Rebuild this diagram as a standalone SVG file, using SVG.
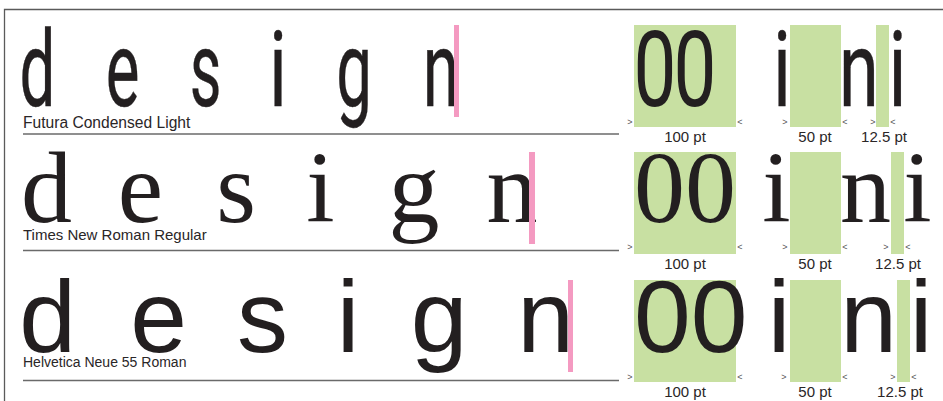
<svg xmlns="http://www.w3.org/2000/svg" width="943" height="401" viewBox="0 0 943 401">
<style>
.frame{stroke:#5a5a5a;stroke-width:1.3;fill:none}
.rule{stroke:#6a6a6a;stroke-width:1.5}
.green{fill:#c8e0a2}
.pink{fill:#f49ac1}
.lbl{font-family:"Liberation Sans",Arial,sans-serif;font-size:15px;fill:#2a2627}
.pt{font-family:"Liberation Sans",Arial,sans-serif;font-size:15px;fill:#2a2627;text-anchor:middle}
.mk{font-family:"Liberation Sans",Arial,sans-serif;font-size:9px;fill:#555;text-anchor:middle}
.fut{font-family:Roboto,"Liberation Sans",sans-serif;font-size:106px;font-weight:400;fill:#231f20;stroke:#231f20;stroke-width:0.4;text-anchor:middle}
.nost{stroke:none}
.tim{font-family:"Liberation Serif","Times New Roman",serif;font-size:102px;fill:#231f20}
.hel{font-family:"Liberation Sans",Arial,sans-serif;font-size:102px;fill:#231f20}
.mid{text-anchor:middle}
</style>
<rect width="943" height="401" fill="#fff"/>
<path class="frame" d="M4.5 401 V9.5 H943"/>

<g id="row-futura">
  <rect class="green" x="634" y="25" width="102" height="102"/>
  <rect class="green" x="790" y="25" width="51" height="102"/>
  <rect class="green" x="876" y="25" width="13" height="102"/>
  <text class="fut" transform="translate(37.5,106) scale(0.6,1)">d</text>
  <text class="fut" transform="translate(122.5,106) scale(0.6,1)">e</text>
  <text class="fut" transform="translate(205.5,106) scale(0.58,1)">s</text>
  <text class="fut" transform="translate(278,106) scale(0.7,1)">i</text>
  <text class="fut" transform="translate(354,106) scale(0.6,1)">g</text>
  <text class="fut" transform="translate(441,106) scale(0.62,1)">n</text>
  <rect class="pink" x="454" y="25" width="5" height="92"/>
  <text class="fut nost" transform="translate(655,106) scale(0.72,1)">0</text>
  <text class="fut nost" transform="translate(695,106) scale(0.72,1)">0</text>
  <text class="fut" transform="translate(782,106) scale(0.7,1)">i</text>
  <text class="fut" transform="translate(859,106) scale(0.68,1)">n</text>
  <text class="fut" transform="translate(897.5,106) scale(0.7,1)">i</text>
  <text class="lbl" x="23" y="127.5" style="font-size:15.6px">Futura Condensed Light</text>
  <line class="rule" x1="23" y1="134" x2="619" y2="134"/>
  <text class="mk" x="630" y="125">&gt;</text>
  <text class="mk" x="740" y="125">&lt;</text>
  <text class="mk" x="785" y="125">&gt;</text>
  <text class="mk" x="845" y="125">&lt;</text>
  <text class="mk" x="873" y="125">&gt;</text>
  <text class="mk" x="893" y="125">&lt;</text>
  <text class="pt" x="685" y="141.5">100 pt</text>
  <text class="pt" x="815" y="141.5">50 pt</text>
  <text class="pt" x="884" y="141.5">12.5 pt</text>
</g>

<g id="row-times">
  <rect class="green" x="634" y="152" width="102" height="102"/>
  <rect class="green" x="790" y="152" width="51" height="102"/>
  <rect class="green" x="891" y="152" width="13" height="102"/>
  <text class="tim mid" x="46.5" y="222">d</text>
  <text class="tim mid" x="140.5" y="222">e</text>
  <text class="tim mid" x="236" y="222">s</text>
  <text class="tim mid" x="320.5" y="222">i</text>
  <text class="tim mid" x="414" y="222">g</text>
  <text class="tim mid" x="512" y="222">n</text>
  <rect class="pink" x="529" y="152" width="6" height="92"/>
  <text class="tim" x="634" y="222">00</text>
  <text class="tim mid" x="776.5" y="222">i</text>
  <text class="tim mid" x="865.5" y="222">n</text>
  <text class="tim mid" x="917.5" y="222">i</text>
  <text class="lbl" x="23" y="239.5">Times New Roman Regular</text>
  <line class="rule" x1="23" y1="250.5" x2="619" y2="250.5"/>
  <text class="mk" x="630" y="250">&gt;</text>
  <text class="mk" x="740" y="250">&lt;</text>
  <text class="mk" x="785" y="250">&gt;</text>
  <text class="mk" x="845" y="250">&lt;</text>
  <text class="mk" x="886" y="250">&gt;</text>
  <text class="mk" x="908" y="250">&lt;</text>
  <text class="pt" x="685" y="269">100 pt</text>
  <text class="pt" x="815" y="269">50 pt</text>
  <text class="pt" x="898" y="269">12.5 pt</text>
</g>

<g id="row-helvetica">
  <rect class="green" x="634" y="280" width="102" height="102"/>
  <rect class="green" x="790" y="280" width="51" height="102"/>
  <rect class="green" x="897" y="280" width="13" height="102"/>
  <text class="hel mid" x="47.5" y="352">d</text>
  <text class="hel mid" x="158.5" y="352">e</text>
  <text class="hel mid" x="262.5" y="352">s</text>
  <text class="hel mid" x="348" y="352">i</text>
  <text class="hel mid" x="439" y="352">g</text>
  <text class="hel mid" x="545.5" y="352">n</text>
  <rect class="pink" x="568" y="280" width="5" height="92"/>
  <text class="hel" x="634" y="352">00</text>
  <text class="hel mid" x="779" y="352">i</text>
  <text class="hel mid" x="868.5" y="352">n</text>
  <text class="hel mid" x="921" y="352">i</text>
  <text class="lbl" x="23" y="367" style="font-size:14px">Helvetica Neue 55 Roman</text>
  <line class="rule" x1="23" y1="380.5" x2="619" y2="380.5"/>
  <text class="mk" x="630" y="380">&gt;</text>
  <text class="mk" x="740" y="380">&lt;</text>
  <text class="mk" x="784" y="380">&gt;</text>
  <text class="mk" x="845" y="380">&lt;</text>
  <text class="mk" x="893" y="380">&gt;</text>
  <text class="mk" x="914" y="380">&lt;</text>
  <text class="pt" x="685" y="397">100 pt</text>
  <text class="pt" x="815" y="397">50 pt</text>
  <text class="pt" x="900" y="397">12.5 pt</text>
</g>
</svg>
